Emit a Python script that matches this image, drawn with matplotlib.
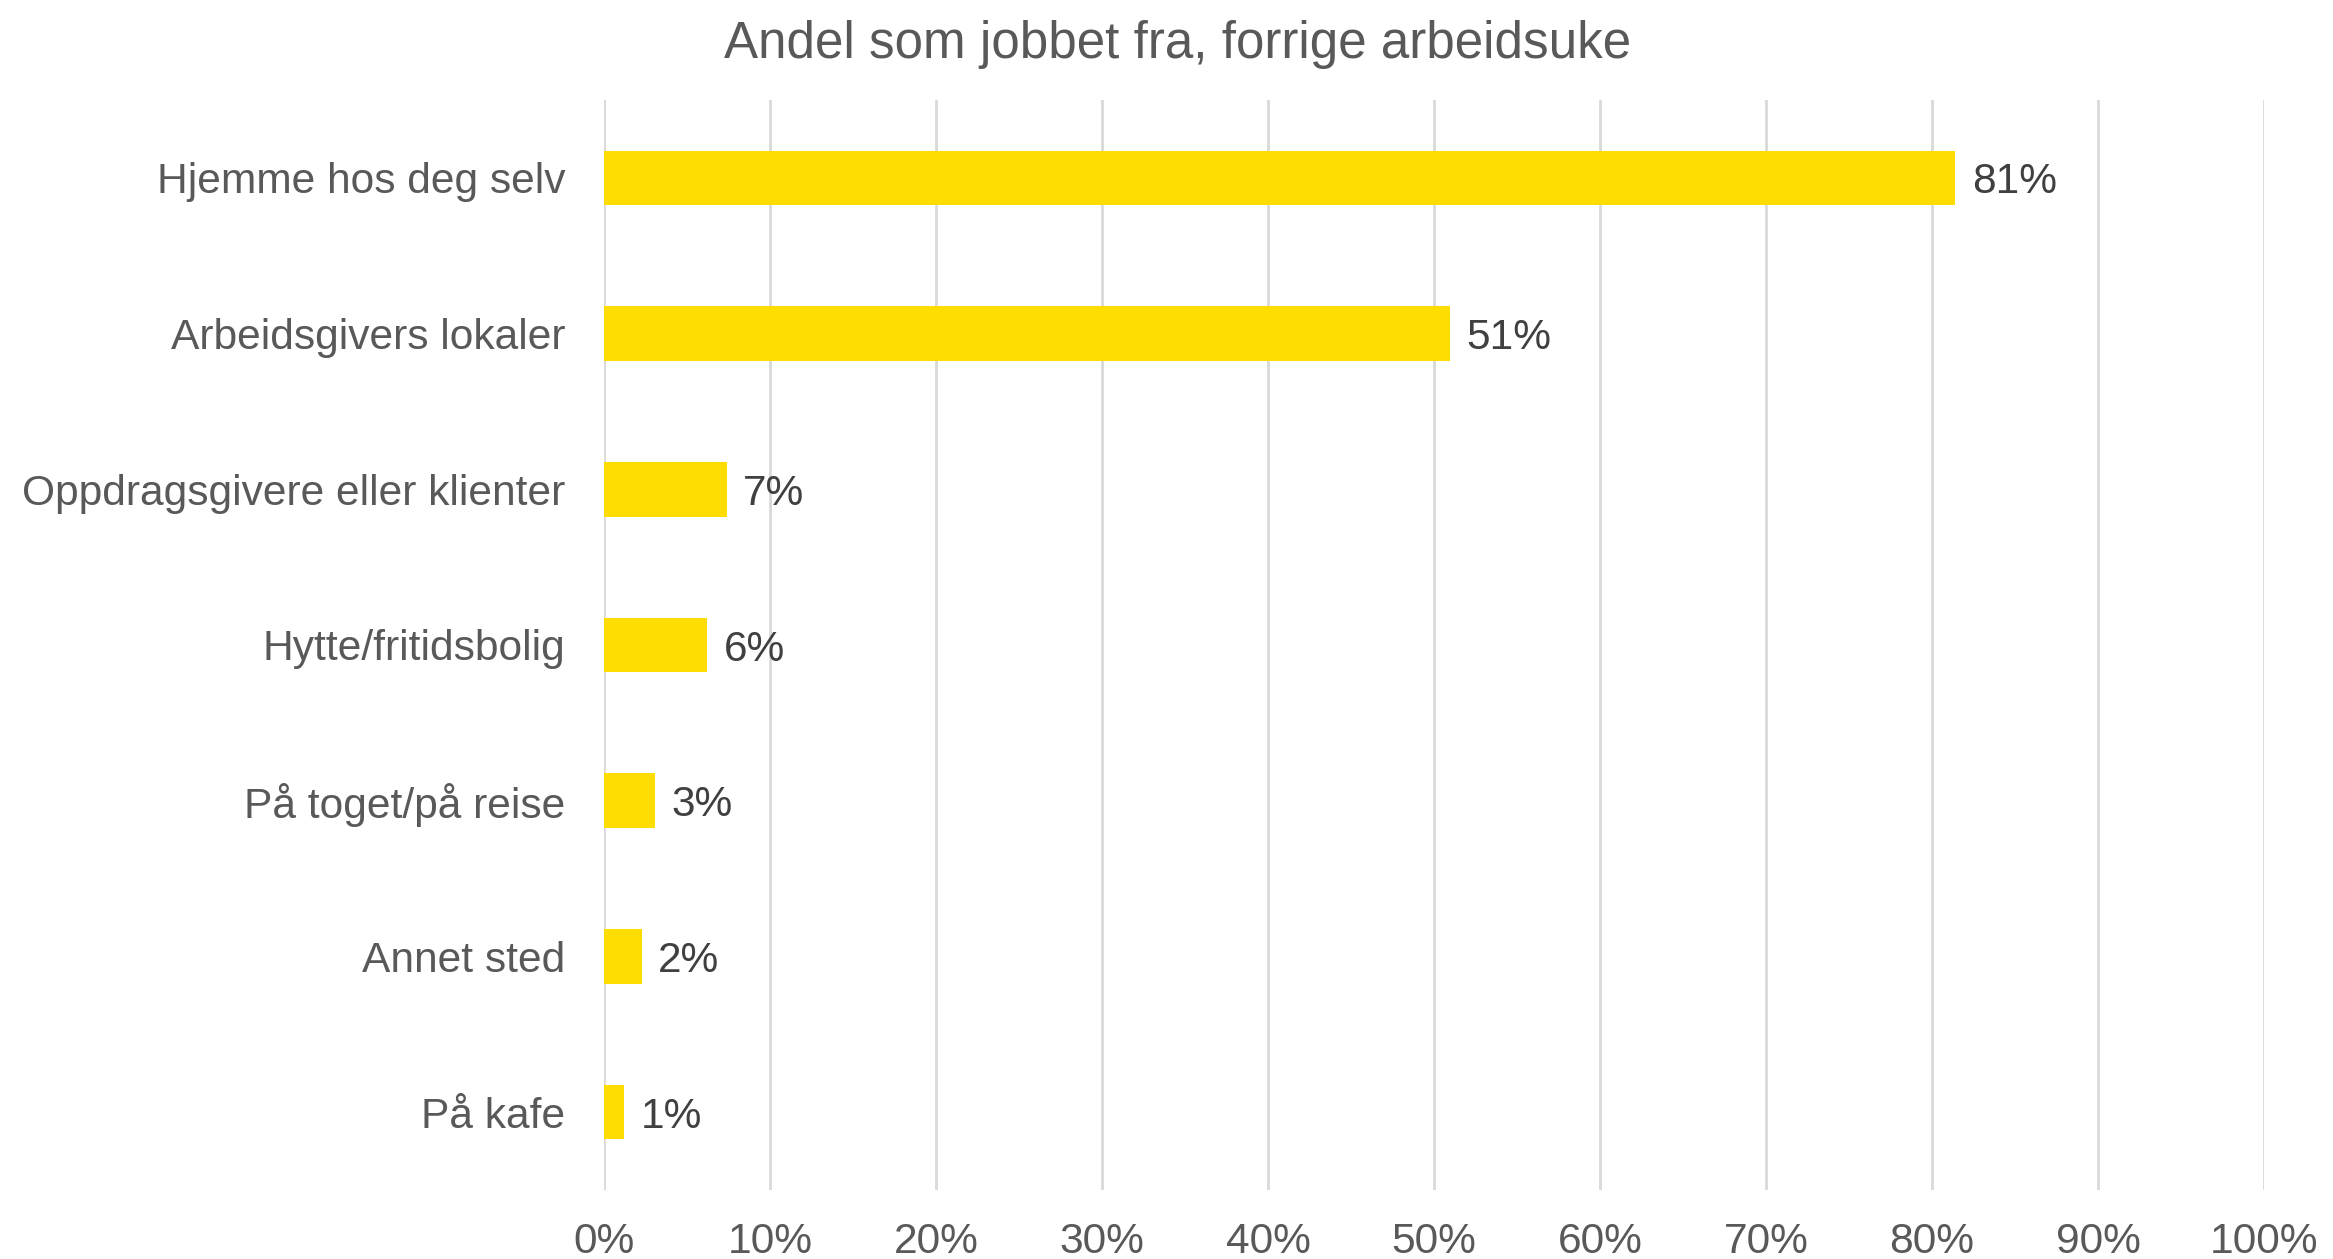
import numpy as np
import matplotlib
matplotlib.use('Agg')
import matplotlib.pyplot as plt

plt.rcParams['font.family'] = ['Liberation Sans', 'DejaVu Sans']

categories = ['Hjemme hos deg selv', 'Arbeidsgivers lokaler', 'Oppdragsgivere eller klienter',
              'Hytte/fritidsbolig', 'På toget/på reise', 'Annet sted', 'På kafe']
values = [81.4, 50.96, 7.39, 6.23, 3.05, 2.27, 1.19]  # percent
xticks = [0, 10, 20, 30, 40, 50, 60, 70, 80, 90, 100]

fig = plt.figure(figsize=(23.33, 12.59), dpi=100)
ax = fig.add_axes([0.2589, 0.0548, 0.9704 - 0.2589, 0.9206 - 0.0548])

y = np.arange(len(categories))
ax.barh(y, values, height=0.35, color='#FFDD00', zorder=3)
for yi, v in zip(y, values):
    ax.text(v + 1.0, yi + 0.03, '%d%%' % round(v), va='center', ha='left', fontsize=30.5, color='#404040')

ax.set_ylim(len(categories) - 0.5, -0.5)
ax.set_xlim(0, 100)
ax.set_yticks(y)
ax.set_yticklabels(categories, fontsize=30.6, color='#595959')
ax.set_xticks(xticks)
ax.set_xticklabels(['%d%%' % t for t in xticks], fontsize=30.6, color='#595959')
ax.tick_params(axis='y', length=0, pad=28)
ax.tick_params(axis='x', length=0, pad=23)
ax.grid(axis='x', color='#D9D9D9', linewidth=2, zorder=0)
for s in ax.spines.values():
    s.set_visible(False)

fig.suptitle('Andel som jobbet fra, forrige arbeidsuke', fontsize=36.8, color='#595959',
             x=0.5048, y=0.9645, va='center')

fig.savefig('out.png', dpi=100)
